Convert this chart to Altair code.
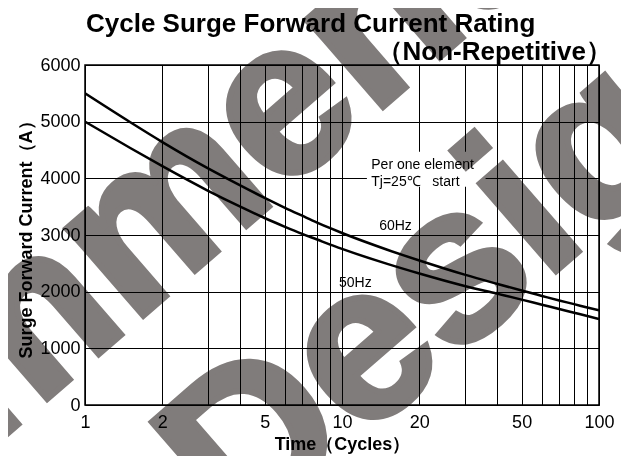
import altair as alt
import pandas as pd

# ---- data ----
cycles = [1, 1.5, 2, 3, 4, 5, 6, 7, 8, 9, 10, 15, 20, 30, 40, 50, 60, 70, 80, 90, 100]
current_60hz = [5500, 4990, 4640, 4180, 3880, 3655, 3480, 3340, 3220, 3120, 3035, 2740, 2550, 2300, 2140, 2020, 1925, 1845, 1780, 1720, 1670]
current_50hz = [5000, 4535, 4215, 3785, 3505, 3300, 3145, 3020, 2920, 2830, 2755, 2490, 2320, 2100, 1965, 1860, 1770, 1695, 1628, 1570, 1515]
series_names = ["60Hz", "50Hz"]

x_grid_values = [1, 2, 3, 4, 5, 6, 7, 8, 9, 10, 20, 30, 40, 50, 60, 70, 80, 90, 100]
x_label_values = [1, 2, 5, 10, 20, 50, 100]
y_values = [0, 1000, 2000, 3000, 4000, 5000, 6000]

note_text = ["Per one element", "Tj=25℃\u00a0\u00a0\u00a0start", "60Hz", "50Hz"]
note_x = [13.0, 13.0, 13.95, 9.73]
note_y = [4165, 3865, 3088, 2082]

note_box_x = [12.5]
note_box_x2 = [36.2]
note_box_y = [3850]
note_box_y2 = [4470]

title_line1 = "Cycle Surge Forward Current Rating"
title_line2 = "（Non-Repetitive）"
x_title = "Time（Cycles）"
y_title = "Surge Forward Current（A）"
watermark_words = ["Recommended", "Design"]

# ---- tables ----
df = pd.DataFrame({
    "cycles": cycles * 2,
    "current": current_60hz + current_50hz,
    "series": [series_names[0]] * len(cycles) + [series_names[1]] * len(cycles),
})
notes = pd.DataFrame({"cycles": note_x, "current": note_y, "text": note_text})
box_df = pd.DataFrame({"cycles": note_box_x, "cycles2": note_box_x2,
                       "current": note_box_y, "current2": note_box_y2})

FONT = "Liberation Sans"
WM_COLOR = "#807c7b"
label_list = ",".join(str(v) for v in x_label_values)

x_scale = alt.Scale(type="log", domain=[1, 100], nice=False)
y_scale = alt.Scale(domain=[0, 6000], nice=False)

x_axis = alt.Axis(values=x_grid_values, format="d",
                  labelExpr=f"indexof([{label_list}], datum.value) >= 0 ? datum.label : ''",
                  labelFlush=False, labelOverlap=False, labelPadding=8,
                  titlePadding=4)
y_axis = alt.Axis(values=y_values, format="d", labelPadding=5, titlePadding=4)

X = alt.X("cycles:Q", scale=x_scale, axis=x_axis, title=x_title)
Y = alt.Y("current:Q", scale=y_scale, axis=y_axis, title=y_title)

box = alt.Chart(box_df).mark_rect(color="white").encode(
    x=X, x2="cycles2:Q", y=Y, y2="current2:Q")

def watermark(word, px, py):
    return alt.Chart(pd.DataFrame({"t": [word]})).mark_text(
        font=FONT, fontWeight="bold", fontSize=220, angle=319, align="left",
        baseline="alphabetic", color=WM_COLOR, stroke=WM_COLOR, strokeWidth=6,
        blend="multiply"
    ).encode(x=alt.value(px), y=alt.value(py), text="t:N")

wm1 = watermark(watermark_words[0], -507, 742)
wm2 = watermark(watermark_words[1], 155, 481)

lines = alt.Chart(df).mark_line(color="black", strokeWidth=2.5,
                                interpolate="monotone", clip=True).encode(
    x=X, y=Y, detail="series:N")

labels = alt.Chart(notes).mark_text(font=FONT, fontSize=14, align="left",
                                    baseline="alphabetic", color="black").encode(
    x=X, y=Y, text="text:N")

t1 = alt.Chart(pd.DataFrame({"t": [title_line1]})).mark_text(
    font=FONT, fontWeight="bold", fontSize=26, align="left",
    baseline="alphabetic", color="black"
).encode(x=alt.value(1), y=alt.value(-33), text="t:N")

t2 = alt.Chart(pd.DataFrame({"t": [title_line2]})).mark_text(
    font=FONT, fontWeight="bold", fontSize=26, align="right",
    baseline="alphabetic", color="black"
).encode(x=alt.value(527), y=alt.value(-5), text="t:N")

chart = alt.layer(box, wm1, wm2, lines, labels, t1, t2).properties(
    width=514, height=340,
    autosize=alt.AutoSizeParams(type="none"),
    padding={"left": 77, "top": 57, "right": 22, "bottom": 51},
    background="white",
).configure_view(
    stroke="black", strokeWidth=1.5
).configure_axis(
    grid=True, gridColor="black", gridWidth=1, gridOpacity=1,
    domain=False, ticks=False,
    labelFont=FONT, labelFontSize=18, labelColor="black",
    titleFont=FONT, titleFontSize=18, titleFontWeight="bold", titleColor="black",
)

chart.save("out.html", embed_options={"renderer": "svg", "actions": False})
